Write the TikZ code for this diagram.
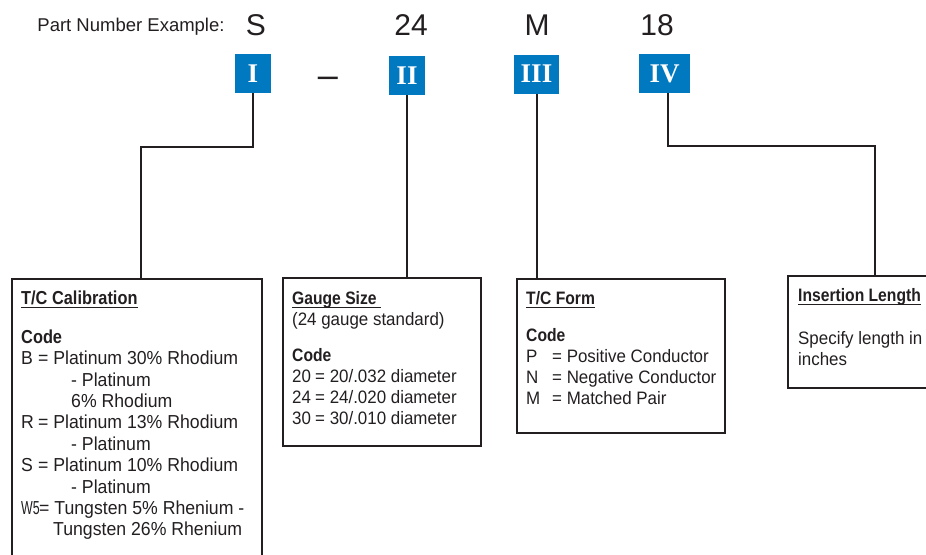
\documentclass[tikz,border=0pt]{standalone}
\usepackage{fontspec}
\usepackage{graphicx}
\setmainfont{Liberation Sans}
\newfontfamily\condfont[FakeStretch=0.94,BoldFeatures={FakeStretch=0.87}]{Liberation Sans}
\newfontfamily\numfont{Liberation Serif}
\usetikzlibrary{positioning}
\definecolor{ink}{RGB}{35,31,32}
\definecolor{tagblue}{RGB}{0,121,193}
\newcommand{\codeitem}[3]{\makebox[#1][l]{#2}#3}
\newcommand{\ulhead}[1]{\setbox0\hbox{#1}\rlap{\rule[-3pt]{\wd0}{1.2pt}}\box0}

\begin{document}
\begin{tikzpicture}[x=1pt,y=-1pt,
    tag/.style={fill=tagblue,text=white,inner sep=0pt,minimum height=39pt,
                font=\numfont\bfseries\fontsize{27}{27}\selectfont},
    frame/.style={draw=ink,line width=1.8pt,anchor=north west,inner sep=0pt},
    txt/.style={anchor=north west,inner sep=0pt,align=left,text=ink,
                font=\condfont\fontsize{18}{21}\selectfont},
    big/.style={anchor=base,text=ink,font=\fontsize{30}{30}\selectfont},
    wire/.style={draw=ink,line width=2pt}]
  \useasboundingbox (0,0) rectangle (926,554);
  \clip (0,0) rectangle (926,554);
  % part number line
  \node[anchor=base,text=ink,font=\fontsize{18.5}{20}\selectfont] (lbl) at (131,31) {Part Number Example:};
  \node[big] (pS) at (256,35) {S};
  \node[big] (p24) at (411,35) {24};
  \node[big] (pM) at (537,35) {M};
  \node[big] (p18) at (657,35) {18};
  \node[big,font=\fontsize{36}{36}\selectfont] (dash) at (328,87) {--};
  % section tags
  \node[tag,minimum width=36pt] (n1) at (253,73.5) {I};
  \node[tag,minimum width=36pt] (n2) at (407,75.5) {II};
  \node[tag,minimum width=45pt] (n3) at (536.5,74) {III};
  \node[tag,minimum width=51pt] (n4) at (664.5,73.5) {IV};
  % boxes
  \node[frame,minimum width=250pt,minimum height=300pt] (b1) at (11,278) {};
  \node[frame,minimum width=198pt,minimum height=168pt] (b2) at (282,277) {};
  \node[frame,minimum width=208pt,minimum height=154pt] (b3) at (516,278) {};
  \node[frame,minimum width=160pt,minimum height=112pt] (b4) at (787,275) {};
  % box texts
  \node[txt,font=\condfont\fontsize{18.8}{21.4}\selectfont] (t1) at (21,291) {%
    \ulhead{\textbf{T/C Calibration}}\\[17pt]
    \textbf{Code}\\
    \codeitem{17pt}{B}{= Platinum 30\% Rhodium}\\
    \hspace*{50pt}- Platinum\\
    \hspace*{50pt}6\% Rhodium\\
    \codeitem{17pt}{R}{= Platinum 13\% Rhodium}\\
    \hspace*{50pt}- Platinum\\
    \codeitem{17pt}{S}{= Platinum 10\% Rhodium}\\
    \hspace*{50pt}- Platinum\\
    \codeitem{18pt}{\scalebox{0.7}[1]{W5}}{= Tungsten 5\% Rhenium -}\\
    \hspace*{32pt}Tungsten 26\% Rhenium};
  \node[txt] (t2) at (292,291.5) {%
    \ulhead{\textbf{Gauge Size}\ }\\
    (24 gauge standard)\\[15pt]
    \textbf{Code}\\
    \codeitem{23pt}{20}{= 20/.032 diameter}\\
    \codeitem{23pt}{24}{= 24/.020 diameter}\\
    \codeitem{23pt}{30}{= 30/.010 diameter}};
  \node[txt] (t3) at (526,291.5) {%
    \ulhead{\textbf{T/C Form}}\\[16pt]
    \textbf{Code}\\
    \codeitem{26pt}{P}{= Positive Conductor}\\
    \codeitem{26pt}{N}{= Negative Conductor}\\
    \codeitem{26pt}{M}{= Matched Pair}};
  \node[txt] (t4) at (798,288.5) {%
    \ulhead{\textbf{Insertion Length}}\\[22pt]
    Specify length in\\
    inches};
  % connectors
  \coordinate (j1) at (141,147);
  \coordinate (j4) at (875,146);
  \draw[wire] (n1.south) |- (j1) -- (j1 |- b1.north);
  \foreach \a/\b in {n2/b2,n3/b3}
    \draw[wire] (\a.south) -- (\a.south |- \b.north);
  \draw[wire] ([xshift=3.5pt]n4.south) |- (j4) -- (j4 |- b4.north);
\end{tikzpicture}
\end{document}
